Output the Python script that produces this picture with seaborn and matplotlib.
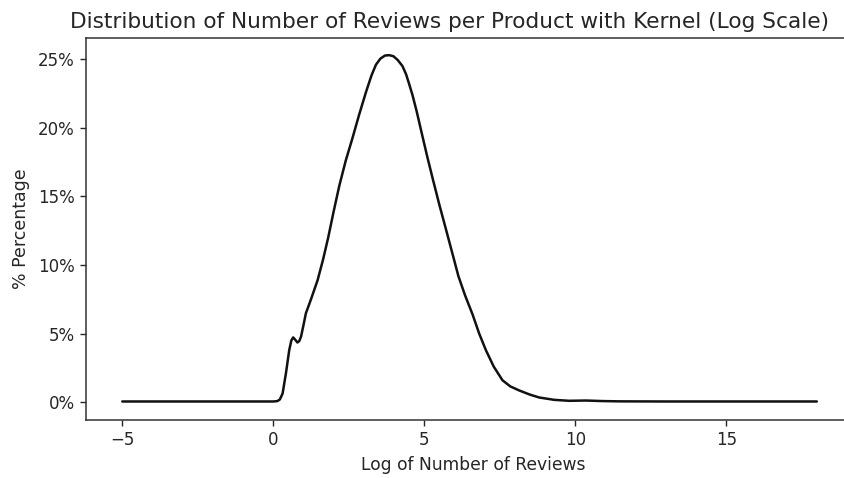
import matplotlib
matplotlib.use("Agg")
import matplotlib.pyplot as plt
from matplotlib.ticker import FuncFormatter
import seaborn as sns
import pandas as pd

# Kernel density of log(number of reviews), in percent
log_reviews = [-5.0, -3.0, -1.0, 0.0, 0.14, 0.22, 0.31, 0.42, 0.53, 0.60, 0.66,
               0.73, 0.80, 0.86, 0.92, 1.00, 1.08, 1.25, 1.47, 1.65, 1.82,
               2.00, 2.19, 2.40, 2.63, 2.85, 3.07, 3.25, 3.40, 3.55, 3.70,
               3.84, 3.98, 4.12, 4.28, 4.40, 4.50, 4.61, 4.75, 4.94, 5.10,
               5.28, 5.50, 5.72, 5.95, 6.13, 6.35, 6.60, 6.82, 7.04, 7.30,
               7.59, 7.85, 8.15, 8.50, 8.81, 9.30, 9.80, 10.35, 10.90, 11.46,
               13.0, 15.0, 17.0, 18.0]
density_pct = [0.05, 0.05, 0.05, 0.05, 0.08, 0.2, 0.63, 2.1, 3.8, 4.5, 4.72,
               4.55, 4.35, 4.45, 4.77, 5.6, 6.47, 7.5, 8.9, 10.4, 12.0,
               13.9, 15.8, 17.6, 19.3, 21.0, 22.6, 23.8, 24.6, 25.05, 25.27,
               25.3, 25.22, 24.95, 24.5, 23.9, 23.2, 22.4, 21.2, 19.4, 17.9,
               16.3, 14.4, 12.6, 10.7, 9.2, 7.8, 6.4, 5.0, 3.8, 2.6,
               1.6, 1.15, 0.85, 0.55, 0.34, 0.17, 0.1, 0.12, 0.08, 0.06,
               0.05, 0.05, 0.05, 0.05]
y_ticks = [0, 5, 10, 15, 20, 25]
x_ticks = [-5, 0, 5, 10, 15]

sns.set_style("ticks")
plt.rcParams["font.family"] = ["DejaVu Sans"]
plt.rcParams["text.color"] = "#262626"

df = pd.DataFrame({"log_reviews": log_reviews, "pct": density_pct})

fig = plt.figure(figsize=(8.44, 4.78), dpi=100)
# the frame runs past the right edge of the canvas
ax = fig.add_axes([86 / 844, 58 / 478, 774 / 844, 382 / 478])
sns.lineplot(data=df, x="log_reviews", y="pct", color="#111111",
             linewidth=1.8, ax=ax)

ax.set_xlim(-6.2, 19.43)
ax.set_ylim(-1.3, 26.55)
ax.set_xticks(x_ticks)
ax.set_yticks(y_ticks)
ax.yaxis.set_major_formatter(FuncFormatter(lambda v, _: f"{v:.0f}%"))
ax.tick_params(labelsize=12, colors="#262626", length=4.5, width=1.0)
for s in ax.spines.values():
    s.set_color("#333333")
    s.set_linewidth(1.1)

ax.set_title("Distribution of Number of Reviews per Product with Kernel (Log Scale)",
             fontsize=15.6, pad=7, x=(450 - 86) / 774)
ax.set_xlabel("Log of Number of Reviews", fontsize=12.3, labelpad=5)
ax.set_ylabel("% Percentage", fontsize=12.5, labelpad=6)

fig.savefig("out.png", dpi=100)
